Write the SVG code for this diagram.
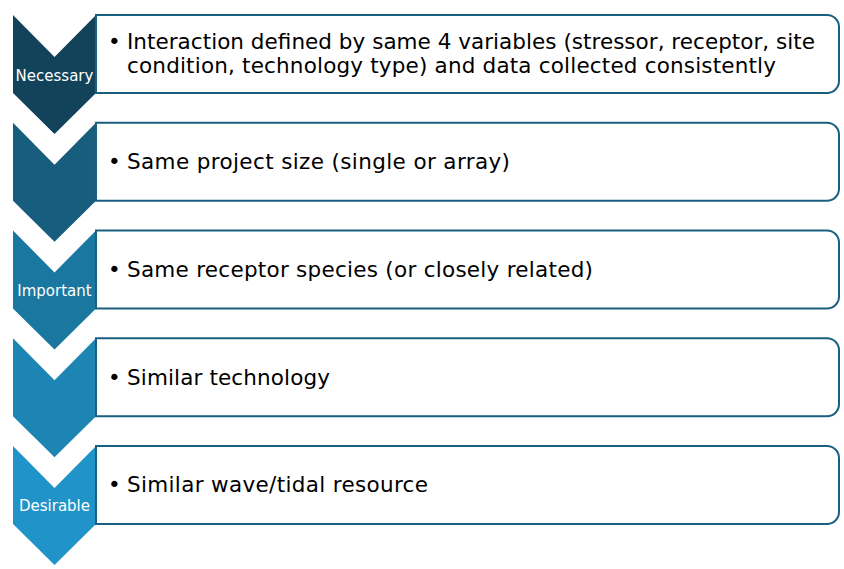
<svg xmlns="http://www.w3.org/2000/svg" width="844" height="569" viewBox="0 0 844 569">
<style>
.box{fill:#ffffff;stroke:#1b5f80;stroke-width:2}
.lbl{font-family:"DejaVu Sans",Verdana,sans-serif;font-size:15px;fill:#ffffff;text-anchor:middle}
.txt{font-family:"DejaVu Sans",Verdana,sans-serif;font-size:21.5px;fill:#000000}
</style>
<defs>
<path id="chev" d="M13,0 L54.5,42 L96,0 L96,78 L54.5,119 L13,78 Z"/>
<path id="rbox" d="M96,0 H827 A12,12 0 0 1 839,12 V66 A12,12 0 0 1 827,78 H96 Z"/>
</defs>
<rect width="844" height="569" fill="#ffffff"/>
<g id="connectors"></g>
<g id="node1">
<use href="#chev" y="15" fill="#12435a"/>
<use href="#rbox" y="15" class="box"/>
<text class="lbl" x="54.5" y="81">Necessary</text>
<text class="txt" x="108" y="48.5">•</text>
<text class="txt" x="127" y="48.5" textLength="688" lengthAdjust="spacing">Interaction defined by same 4 variables (stressor, receptor, site</text>
<text class="txt" x="127" y="72.5" textLength="649" lengthAdjust="spacing">condition, technology type) and data collected consistently</text>
</g>
<g id="node2">
<use href="#chev" y="122.75" fill="#175d7d"/>
<use href="#rbox" y="122.75" class="box"/>
<text class="txt" x="108" y="168.5">•</text>
<text class="txt" x="127" y="168.5" textLength="383" lengthAdjust="spacing">Same project size (single or array)</text>
</g>
<g id="node3">
<use href="#chev" y="230.5" fill="#1a77a0"/>
<use href="#rbox" y="230.5" class="box"/>
<text class="lbl" x="54.5" y="296">Important</text>
<text class="txt" x="108" y="276.5">•</text>
<text class="txt" x="127" y="276.5" textLength="466" lengthAdjust="spacing">Same receptor species (or closely related)</text>
</g>
<g id="node4">
<use href="#chev" y="338.25" fill="#1c85b3"/>
<use href="#rbox" y="338.25" class="box"/>
<text class="txt" x="108" y="384.5">•</text>
<text class="txt" x="127" y="384.5" textLength="203" lengthAdjust="spacing">Similar technology</text>
</g>
<g id="node5">
<use href="#chev" y="446" fill="#2094c8"/>
<use href="#rbox" y="446" class="box"/>
<text class="lbl" x="54.5" y="511">Desirable</text>
<text class="txt" x="108" y="492">•</text>
<text class="txt" x="127" y="492" textLength="301" lengthAdjust="spacing">Similar wave/tidal resource</text>
</g>
</svg>
